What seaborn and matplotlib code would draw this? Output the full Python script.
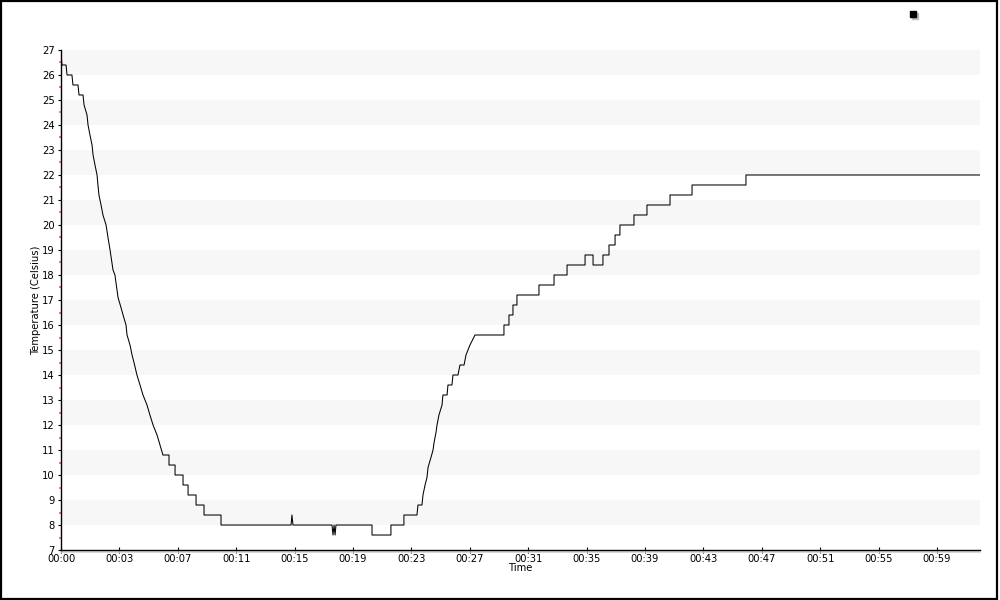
import numpy as np
import pandas as pd
import matplotlib
matplotlib.use("Agg")
import matplotlib.pyplot as plt
from matplotlib.lines import Line2D
from matplotlib.patches import Rectangle
import seaborn as sns

# Temperature log (minutes since start, degrees Celsius)
time_min = [
    0.00, 0.07, 0.34, 0.41, 0.74, 0.81, 1.15, 1.22, 1.49, 1.56, 1.76, 1.83,
    1.96, 2.10, 2.17, 2.30, 2.44, 2.50, 2.57, 2.71, 2.84, 3.05, 3.18, 3.32,
    3.52, 3.65, 3.86, 4.06, 4.20, 4.40, 4.47, 4.67, 4.81, 4.94, 5.14, 5.35,
    5.55, 5.82, 6.02, 6.23, 6.50, 6.70, 6.90, 7.31, 7.31, 7.72, 7.72, 8.26,
    8.26, 8.60, 8.60, 9.14, 9.14, 9.68, 9.68, 10.83, 10.83, 15.57, 15.63, 15.70,
    18.34, 18.41, 18.48, 18.55, 18.61, 21.05, 21.05, 22.33, 22.33, 23.21, 23.21, 24.09,
    24.16, 24.43, 24.50, 24.64, 24.77, 24.84, 25.04, 25.18, 25.25, 25.38, 25.45, 25.58,
    25.79, 25.85, 26.13, 26.19, 26.46, 26.53, 26.87, 27.00, 27.28, 27.41, 27.68, 28.02,
    29.98, 29.98, 30.32, 30.32, 30.59, 30.59, 30.86, 30.86, 32.35, 32.35, 33.37, 33.37,
    34.25, 34.25, 35.47, 35.47, 36.01, 36.01, 36.68, 36.68, 37.09, 37.09, 37.50, 37.50,
    37.83, 37.83, 38.78, 38.78, 39.66, 39.66, 41.22, 41.22, 42.71, 42.71, 46.36, 46.36,
    62.20,
]
temp_c = [
    26.8, 26.4, 26.4, 26.0, 26.0, 25.6, 25.6, 25.2, 25.2, 24.8, 24.4, 24.0,
    23.6, 23.2, 22.8, 22.4, 22.0, 21.6, 21.2, 20.8, 20.4, 20.0, 19.5, 19.0,
    18.2, 18.0, 17.1, 16.7, 16.4, 16.0, 15.6, 15.2, 14.8, 14.5, 14.0, 13.6,
    13.2, 12.8, 12.4, 12.0, 11.6, 11.2, 10.8, 10.8, 10.4, 10.4, 10.0, 10.0,
    9.6, 9.6, 9.2, 9.2, 8.8, 8.8, 8.4, 8.4, 8.0, 8.0, 8.4, 8.0,
    8.0, 7.6, 8.0, 7.6, 8.0, 8.0, 7.6, 7.6, 8.0, 8.0, 8.4, 8.4,
    8.8, 8.8, 9.2, 9.6, 9.9, 10.3, 10.7, 11.0, 11.3, 11.7, 12.0, 12.4,
    12.8, 13.2, 13.2, 13.6, 13.6, 14.0, 14.0, 14.4, 14.4, 14.8, 15.2, 15.6,
    15.6, 16.0, 16.0, 16.4, 16.4, 16.8, 16.8, 17.2, 17.2, 17.6, 17.6, 18.0,
    18.0, 18.4, 18.4, 18.8, 18.8, 18.4, 18.4, 18.8, 18.8, 19.2, 19.2, 19.6,
    19.6, 20.0, 20.0, 20.4, 20.4, 20.8, 20.8, 21.2, 21.2, 21.6, 21.6, 22.0,
    22.0,
]

x_tick_labels = ["00:00", "00:03", "00:07", "00:11", "00:15", "00:19", "00:23", "00:27",
                 "00:31", "00:35", "00:39", "00:43", "00:47", "00:51", "00:55", "00:59"]
tick_step_min = 3.953
x_max = 62.2
y_min, y_max = 7, 27

df = pd.DataFrame({"Time": time_min, "Temperature": temp_c})

sns.set_theme(style="white")
plt.rcParams["font.family"] = ["DejaVu Sans"]
plt.rcParams["text.color"] = "black"
plt.rcParams["axes.labelcolor"] = "black"
plt.rcParams["xtick.color"] = "black"
plt.rcParams["ytick.color"] = "black"

fig = plt.figure(figsize=(10, 6), dpi=100)
ax = fig.add_axes([0.061, 0.0833, 0.919, 0.8334])

# alternating light bands
for lo in range(8, y_max, 2):
    ax.axhspan(lo, lo + 1, color="#f7f7f7", lw=0, zorder=0)

sns.lineplot(data=df, x="Time", y="Temperature", estimator=None, sort=False,
             color="black", linewidth=0.75, ax=ax)

ax.set_xlim(0, x_max)
ax.set_ylim(y_min, y_max)

ax.set_xticks([i * tick_step_min for i in range(len(x_tick_labels))])
ax.set_xticklabels(x_tick_labels)
ax.set_yticks(range(y_min, y_max + 1))
ax.set_yticks(np.arange(y_min + 0.5, y_max, 1.0), minor=True)

ax.tick_params(axis="x", direction="inout", length=4, width=0.8, colors="black",
               labelsize=7.2, pad=1, bottom=True)
ax.tick_params(axis="y", which="major", direction="out", length=2.5, width=0.8,
               colors="black", labelsize=7.2, pad=2, left=True)
ax.tick_params(axis="y", which="minor", direction="out", length=1.5, width=1.2,
               color="#ff6060", left=True)

for side in ["top", "right"]:
    ax.spines[side].set_visible(False)
for side in ["left", "bottom"]:
    ax.spines[side].set_color("black")
    ax.spines[side].set_linewidth(1.0)

# soft shadow below the time axis
ax.add_line(Line2D([0, 1], [-0.003, -0.003], transform=ax.transAxes, color="#d0d0d0",
                   lw=1.2, clip_on=False, zorder=1))

ax.set_xlabel("Time", fontsize=7.2, labelpad=-1, color="black")
ax.set_ylabel("Temperature (Celsius)", fontsize=7.2, labelpad=1, color="black")

# legend marker (no text) in the top right corner
fig.add_artist(Line2D([0.9145], [0.974], marker="s", markersize=4.5, color="#bbbbbb", ls=""))
fig.add_artist(Line2D([0.913], [0.976], marker="s", markersize=4.5, color="black", ls=""))

# image frame
fig.add_artist(Rectangle((0.001, 0.002), 0.996, 0.996, transform=fig.transFigure,
                         fill=False, edgecolor="black", lw=1.6))

fig.savefig("out.png", dpi=100)
